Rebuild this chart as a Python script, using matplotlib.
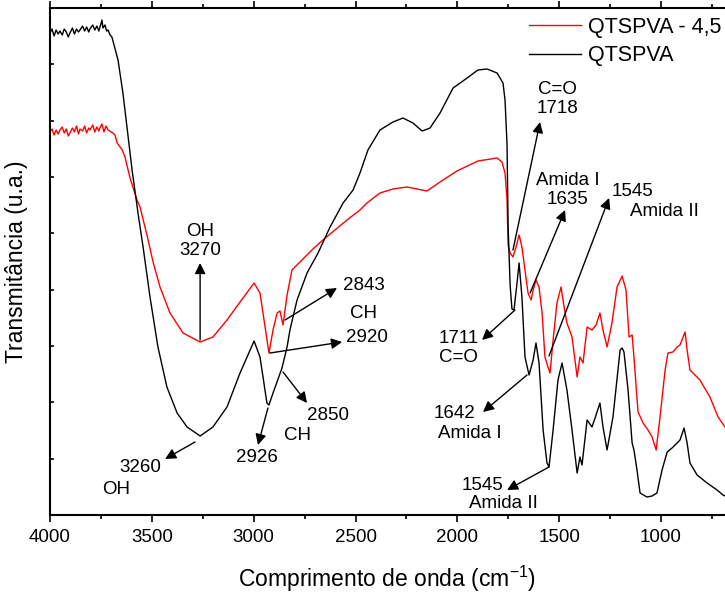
import matplotlib
matplotlib.use('Agg')
import matplotlib.pyplot as plt
import numpy as np

plt.rcParams['font.family'] = ['Liberation Sans', 'DejaVu Sans']
plt.rcParams['mathtext.default'] = 'regular'

# QTSPVA (black) - wavenumber (cm-1) and transmittance (u.a.)
wn_black = [4000, 3990, 3980, 3970, 3960, 3951, 3940, 3930, 3920, 3910, 3902, 3890, 3880, 3870,
            3860, 3853, 3840, 3830, 3820, 3810, 3804, 3790, 3780, 3770, 3760, 3755, 3750, 3745,
            3740, 3730, 3722, 3715, 3705, 3696, 3666, 3642, 3622, 3597, 3568,
            3543, 3509, 3470, 3426, 3376, 3327, 3263, 3200, 3131, 3067, 2998, 2969, 2935, 2925,
            2905, 2861, 2836, 2822, 2787, 2738, 2684, 2625, 2561, 2512, 2478, 2439, 2380, 2316,
            2267, 2218, 2173, 2134, 2085, 2021, 1952, 1899, 1854, 1805, 1776, 1766, 1756, 1751,
            1741, 1732, 1722, 1707, 1697, 1683, 1668, 1648, 1628, 1614, 1599, 1579, 1560, 1550,
            1530, 1506, 1486, 1462, 1437, 1412, 1398, 1388, 1363, 1339, 1319, 1300, 1285, 1265,
            1236, 1201, 1191, 1182, 1162, 1142, 1133, 1118, 1103, 1069, 1044, 1020, 995, 970,
            946, 921, 907, 887, 872, 858, 823, 774, 725, 696, 686]
t_black = [482, 486, 479, 485, 481, 484, 480, 486, 483, 478, 482, 487, 481, 486,
           483, 485, 489, 484, 488, 483, 486, 490, 485, 489, 484, 488, 491, 495,
           487, 490, 484, 485, 480, 478, 455, 422, 388, 345, 302,
           268, 218, 168, 128, 102, 88, 79, 88, 108, 142, 174, 158, 112, 110,
           122, 147, 168, 185, 215, 242, 262, 288, 312, 325, 342, 365, 385, 393,
           397, 392, 384, 387, 402, 427, 437, 445, 446, 442, 432, 415, 370, 290,
           230, 206, 205, 232, 252, 218, 158, 140, 155, 172, 152, 85, 52, 48,
           85, 135, 152, 125, 85, 42, 58, 50, 95, 88, 100, 112, 88, 65,
           98, 165, 167, 163, 125, 72, 65, 45, 22, 18, 19, 22, 45, 63,
           67, 72, 75, 87, 72, 52, 40, 32, 25, 20, 19]

# QTSPVA - 4,5 (red)
wn_red = [4000, 3990, 3980, 3970, 3960, 3951, 3940, 3930, 3920, 3910, 3902, 3890, 3880, 3870,
          3860, 3853, 3840, 3830, 3820, 3810, 3804, 3790, 3780, 3770, 3760, 3755, 3745, 3735,
          3725, 3715, 3700, 3691, 3681, 3670, 3656, 3645, 3632, 3607, 3573, 3558,
          3524, 3494, 3460, 3411, 3347, 3263, 3200, 3131, 3067, 2998, 2969, 2944, 2925, 2905,
          2885, 2871, 2856, 2836, 2812, 2773, 2709, 2660, 2601, 2542, 2478, 2444, 2380, 2316,
          2247, 2149, 2085, 2002, 1899, 1805, 1781, 1766, 1756, 1751, 1741, 1727, 1712, 1697,
          1683, 1668, 1653, 1638, 1628, 1614, 1599, 1584, 1570, 1555, 1545, 1530, 1511, 1491,
          1476, 1462, 1437, 1412, 1398, 1383, 1363, 1339, 1319, 1300, 1285, 1265, 1241, 1216,
          1191, 1172, 1157, 1142, 1133, 1113, 1088, 1064, 1044, 1024, 1005, 980, 966, 941,
          921, 907, 882, 872, 858, 809, 760, 720, 686]
t_red = [383, 386, 380, 385, 381, 385, 388, 382, 386, 379, 382, 387, 383, 389,
         381, 386, 384, 389, 382, 387, 385, 390, 383, 388, 384, 387, 391, 383,
         389, 385, 383, 382, 380, 372, 368, 365, 358, 337, 315, 308,
         280, 253, 228, 202, 182, 173, 178, 195, 213, 232, 222, 188, 162, 185,
         202, 204, 190, 220, 245, 253, 266, 275, 285, 295, 305, 312, 322, 326,
         328, 324, 333, 344, 354, 357, 353, 342, 315, 270, 262, 258, 268, 280,
         268, 245, 222, 215, 225, 235, 228, 202, 158, 148, 142, 175, 212, 228,
         208, 192, 178, 138, 158, 152, 188, 185, 190, 202, 185, 168, 192, 228,
         239, 225, 178, 180, 158, 103, 92, 85, 78, 65, 98, 145, 162, 163,
         168, 170, 183, 165, 145, 135, 118, 98, 88]

fig = plt.figure(figsize=(7.25, 5.95), dpi=100)
ax = fig.add_axes([50 / 725, 80 / 595, 675 / 725, 507 / 595])

ax.plot(wn_red, t_red, color='red', lw=1, label='QTSPVA - 4,5')
ax.plot(wn_black, t_black, color='black', lw=1, label='QTSPVA')

ax.set_xlim(4000, 686)
ax.set_ylim(0, 507)
ax.set_xticks([4000, 3500, 3000, 2500, 2000, 1500, 1000])
ax.set_xticks(np.arange(3750, 700, -500), minor=True)
ax.set_yticks(np.linspace(0, 507, 10))
ax.set_yticklabels([])
ax.tick_params(axis='x', which='major', direction='out', length=5, width=1.2,
               labelsize=13.5, top=True, pad=5)
ax.tick_params(axis='x', which='minor', direction='out', length=3, width=1.2, top=True)
ax.tick_params(axis='y', direction='in', length=3, width=1.2)
for s in ['left', 'bottom', 'top']:
    ax.spines[s].set_linewidth(1.5)
ax.spines['right'].set_visible(False)

ax.set_xlabel('Comprimento de onda (cm$^{-1}$)', fontsize=16.5, labelpad=13)
ax.set_ylabel('Transmitância (u.a.)', fontsize=16.5, labelpad=12)

# annotations: (text, x, y)
labels = [('OH\n3270', 3263, 274), ('3260', 3558, 48), ('OH', 3676, 25),
          ('2926', 2984, 58), ('2850', 2635, 100), ('CH', 2787, 80),
          ('2843', 2458, 230), ('CH', 2463, 202), ('2920', 2444, 178),
          ('C=O\n1718', 1508, 416), ('Amida I\n1635', 1457, 325),
          ('1545', 1142, 323), ('Amida II', 985, 304),
          ('1711\nC=O', 1995, 167), ('1642', 2012, 102), ('Amida I', 1938, 82),
          ('1545', 1879, 30), ('Amida II', 1776, 12)]
for txt, x, y in labels:
    ax.text(x, y, txt, fontsize=13.5, ha='center', va='center', linespacing=1.15)

# arrows: (tail, head)
arrows = [((3263, 175), (3263, 252)), ((3288, 73), (3435, 56)),
          ((2930, 107), (2979, 70)), ((2856, 143), (2738, 112)),
          ((2846, 195), (2591, 227)), ((2920, 162), (2566, 173)),
          ((1727, 265), (1594, 393)), ((1643, 222), (1471, 305)),
          ((1550, 159), (1255, 317)), ((1717, 205), (1879, 175)),
          ((1658, 140), (1874, 103)), ((1550, 48), (1756, 25))]
for tail, head in arrows:
    ax.annotate('', xy=head, xytext=tail,
                arrowprops=dict(arrowstyle='-|>', color='black', lw=1,
                                mutation_scale=16, shrinkA=0, shrinkB=0))

ax.legend(loc='upper right', bbox_to_anchor=(1.008, 1.0), frameon=False, fontsize=15.5,
          handlelength=2.4, handletextpad=0.35, labelspacing=0.35, borderaxespad=0.0)

fig.savefig('out.png', dpi=100)
